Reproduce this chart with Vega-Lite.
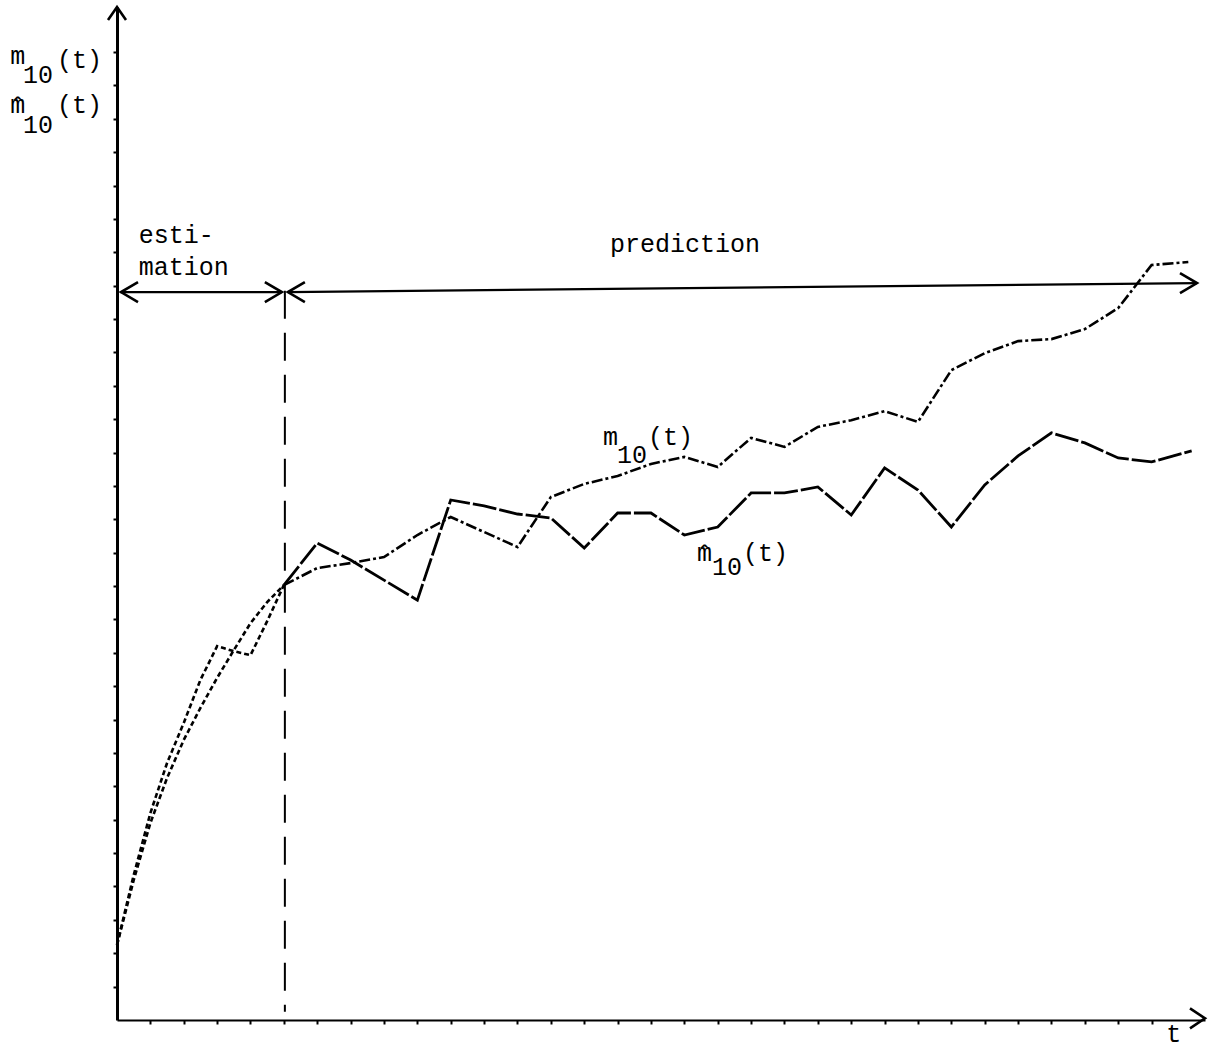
{
  "$schema": "https://vega.github.io/schema/vega-lite/v6.json",
  "width": 1088,
  "height": 1013,
  "autosize": {"type": "none"},
  "padding": {"left": 117, "top": 7, "right": 3, "bottom": 29},
  "background": "white",
  "config": {"view": {"stroke": null}, "font": "Liberation Mono"},
  "datasets": {
    "curves": [
      {"series": "m10", "phase": "estimation", "t": 0, "y": 2.25},
      {"series": "m10", "phase": "estimation", "t": 0.5, "y": 4.19},
      {"series": "m10", "phase": "estimation", "t": 1, "y": 5.9},
      {"series": "m10", "phase": "estimation", "t": 1.5, "y": 7.25},
      {"series": "m10", "phase": "estimation", "t": 2, "y": 8.39},
      {"series": "m10", "phase": "estimation", "t": 2.5, "y": 9.35},
      {"series": "m10", "phase": "estimation", "t": 3, "y": 10.25},
      {"series": "m10", "phase": "estimation", "t": 3.5, "y": 11.08},
      {"series": "m10", "phase": "estimation", "t": 4, "y": 11.89},
      {"series": "m10", "phase": "estimation", "t": 4.5, "y": 12.52},
      {"series": "m10", "phase": "estimation", "t": 5, "y": 13.03},
      {"series": "m10", "phase": "prediction", "t": 5, "y": 13.03},
      {"series": "m10", "phase": "prediction", "t": 6, "y": 13.54},
      {"series": "m10", "phase": "prediction", "t": 7, "y": 13.69},
      {"series": "m10", "phase": "prediction", "t": 8, "y": 13.87},
      {"series": "m10", "phase": "prediction", "t": 9, "y": 14.53},
      {"series": "m10", "phase": "prediction", "t": 10, "y": 15.07},
      {"series": "m10", "phase": "prediction", "t": 11, "y": 14.62},
      {"series": "m10", "phase": "prediction", "t": 12, "y": 14.17},
      {"series": "m10", "phase": "prediction", "t": 13, "y": 15.67},
      {"series": "m10", "phase": "prediction", "t": 14, "y": 16.06},
      {"series": "m10", "phase": "prediction", "t": 15, "y": 16.3},
      {"series": "m10", "phase": "prediction", "t": 16, "y": 16.66},
      {"series": "m10", "phase": "prediction", "t": 17, "y": 16.87},
      {"series": "m10", "phase": "prediction", "t": 18, "y": 16.57},
      {"series": "m10", "phase": "prediction", "t": 19, "y": 17.44},
      {"series": "m10", "phase": "prediction", "t": 20, "y": 17.17},
      {"series": "m10", "phase": "prediction", "t": 21, "y": 17.77},
      {"series": "m10", "phase": "prediction", "t": 22, "y": 17.97},
      {"series": "m10", "phase": "prediction", "t": 23, "y": 18.24},
      {"series": "m10", "phase": "prediction", "t": 24, "y": 17.92},
      {"series": "m10", "phase": "prediction", "t": 25, "y": 19.47},
      {"series": "m10", "phase": "prediction", "t": 26, "y": 19.98},
      {"series": "m10", "phase": "prediction", "t": 27, "y": 20.34},
      {"series": "m10", "phase": "prediction", "t": 28, "y": 20.4},
      {"series": "m10", "phase": "prediction", "t": 29, "y": 20.7},
      {"series": "m10", "phase": "prediction", "t": 30, "y": 21.33},
      {"series": "m10", "phase": "prediction", "t": 31, "y": 22.62},
      {"series": "m10", "phase": "prediction", "t": 32.1, "y": 22.71},
      {"series": "mhat10", "phase": "estimation", "t": 0, "y": 2.25},
      {"series": "mhat10", "phase": "estimation", "t": 0.5, "y": 4.34},
      {"series": "mhat10", "phase": "estimation", "t": 1, "y": 6.2},
      {"series": "mhat10", "phase": "estimation", "t": 1.5, "y": 7.7},
      {"series": "mhat10", "phase": "estimation", "t": 2, "y": 8.9},
      {"series": "mhat10", "phase": "estimation", "t": 2.5, "y": 10.19},
      {"series": "mhat10", "phase": "estimation", "t": 3, "y": 11.2},
      {"series": "mhat10", "phase": "estimation", "t": 3.5, "y": 11.05},
      {"series": "mhat10", "phase": "estimation", "t": 4, "y": 10.93},
      {"series": "mhat10", "phase": "estimation", "t": 4.5, "y": 11.95},
      {"series": "mhat10", "phase": "estimation", "t": 5, "y": 13.03},
      {"series": "mhat10", "phase": "prediction", "t": 5, "y": 13.03},
      {"series": "mhat10", "phase": "prediction", "t": 6, "y": 14.29},
      {"series": "mhat10", "phase": "prediction", "t": 7, "y": 13.78},
      {"series": "mhat10", "phase": "prediction", "t": 8, "y": 13.18},
      {"series": "mhat10", "phase": "prediction", "t": 9, "y": 12.58},
      {"series": "mhat10", "phase": "prediction", "t": 10, "y": 15.58},
      {"series": "mhat10", "phase": "prediction", "t": 11, "y": 15.4},
      {"series": "mhat10", "phase": "prediction", "t": 12, "y": 15.16},
      {"series": "mhat10", "phase": "prediction", "t": 13, "y": 15.04},
      {"series": "mhat10", "phase": "prediction", "t": 14, "y": 14.14},
      {"series": "mhat10", "phase": "prediction", "t": 15, "y": 15.19},
      {"series": "mhat10", "phase": "prediction", "t": 16, "y": 15.19},
      {"series": "mhat10", "phase": "prediction", "t": 17, "y": 14.53},
      {"series": "mhat10", "phase": "prediction", "t": 18, "y": 14.77},
      {"series": "mhat10", "phase": "prediction", "t": 19, "y": 15.79},
      {"series": "mhat10", "phase": "prediction", "t": 20, "y": 15.79},
      {"series": "mhat10", "phase": "prediction", "t": 21, "y": 15.97},
      {"series": "mhat10", "phase": "prediction", "t": 22, "y": 15.13},
      {"series": "mhat10", "phase": "prediction", "t": 23, "y": 16.54},
      {"series": "mhat10", "phase": "prediction", "t": 24, "y": 15.88},
      {"series": "mhat10", "phase": "prediction", "t": 25, "y": 14.77},
      {"series": "mhat10", "phase": "prediction", "t": 26, "y": 16.03},
      {"series": "mhat10", "phase": "prediction", "t": 27, "y": 16.9},
      {"series": "mhat10", "phase": "prediction", "t": 28, "y": 17.59},
      {"series": "mhat10", "phase": "prediction", "t": 29, "y": 17.29},
      {"series": "mhat10", "phase": "prediction", "t": 30, "y": 16.84},
      {"series": "mhat10", "phase": "prediction", "t": 31, "y": 16.72},
      {"series": "mhat10", "phase": "prediction", "t": 32.2, "y": 17.05}
    ],
    "divider": [{"t": 5.03, "y": 21.85, "y2": 0.25}],
    "arrows": [
      {"t": 0.1, "t2": 4.94, "y": 21.81, "y2": 21.81},
      {"t": 5.12, "t2": 32.36, "y": 21.81, "y2": 22.08}
    ],
    "heads": [
      {"kind": "left", "t": 0.12, "y": 21.81},
      {"kind": "right", "t": 4.94, "y": 21.81},
      {"kind": "left", "t": 5.12, "y": 21.81},
      {"kind": "right", "t": 32.36, "y": 22.08},
      {"kind": "up", "t": 0, "y": 30.35},
      {"kind": "axisright", "t": 32.6, "y": 0.05}
    ],
    "labels": [
      {"t": -3.2, "y": 28.64, "text": "m"},
      {"t": -2.82, "y": 28.07, "text": "10"},
      {"t": -1.8, "y": 28.52, "text": "(t)"},
      {"t": -3.2, "y": 27.11, "text": "ˆ"},
      {"t": -3.2, "y": 27.17, "text": "m"},
      {"t": -2.82, "y": 26.57, "text": "10"},
      {"t": -1.8, "y": 27.17, "text": "(t)"},
      {"t": 14.56, "y": 17.23, "text": "m"},
      {"t": 14.98, "y": 16.69, "text": "10"},
      {"t": 15.91, "y": 17.23, "text": "(t)"},
      {"t": 17.38, "y": 13.69, "text": "ˆ"},
      {"t": 17.38, "y": 13.75, "text": "m"},
      {"t": 17.83, "y": 13.33, "text": "10"},
      {"t": 18.76, "y": 13.75, "text": "(t)"},
      {"t": 0.65, "y": 23.28, "text": "esti-"},
      {"t": 0.65, "y": 22.32, "text": "mation"},
      {"t": 14.77, "y": 23.01, "text": "prediction"},
      {"t": 31.44, "y": -0.66, "text": "t"}
    ]
  },
  "encoding": {
    "x": {
      "field": "t",
      "type": "quantitative",
      "scale": {"domain": [0, 32.6], "nice": false, "zero": false},
      "axis": {
        "title": null,
        "labels": false,
        "grid": false,
        "values": [1,2,3,4,5,6,7,8,9,10,11,12,13,14,15,16,17,18,19,20,21,22,23,24,25,26,27,28,29,30,31],
        "tickSize": 4,
        "tickWidth": 2,
        "tickColor": "black",
        "domainColor": "black",
        "domainWidth": 2.2
      }
    },
    "y": {
      "field": "y",
      "type": "quantitative",
      "scale": {"domain": [0, 30.35], "nice": false, "zero": false},
      "axis": {
        "title": null,
        "labels": false,
        "grid": false,
        "values": [1,2,3,4,5,6,7,8,9,10,11,12,13,14,15,16,17,18,19,20,21,22,23,24,25,26,27,28,29],
        "tickSize": 4,
        "tickWidth": 2,
        "tickColor": "black",
        "domainColor": "black",
        "domainWidth": 3
      }
    }
  },
  "layer": [
    {
      "data": {"name": "curves"},
      "transform": [{"filter": "datum.phase === 'estimation'"}],
      "mark": {"type": "line", "color": "black", "strokeWidth": 2.6, "strokeDash": [5, 3]},
      "encoding": {"detail": {"field": "series"}}
    },
    {
      "data": {"name": "curves"},
      "transform": [{"filter": "datum.phase === 'prediction' && datum.series === 'm10'"}],
      "mark": {"type": "line", "color": "black", "strokeWidth": 2.6, "strokeDash": [11, 3, 3, 3]}
    },
    {
      "data": {"name": "curves"},
      "transform": [{"filter": "datum.phase === 'prediction' && datum.series === 'mhat10'"}],
      "mark": {"type": "line", "color": "black", "strokeWidth": 2.8, "strokeDash": [24, 3]}
    },
    {
      "data": {"name": "divider"},
      "mark": {"type": "rule", "color": "black", "strokeWidth": 2, "strokeDash": [28, 14]},
      "encoding": {"y2": {"field": "y2"}}
    },
    {
      "data": {"name": "arrows"},
      "mark": {"type": "rule", "color": "black", "strokeWidth": 2.2},
      "encoding": {"x2": {"field": "t2"}, "y2": {"field": "y2"}}
    },
    {
      "data": {"name": "heads"},
      "mark": {"type": "point", "filled": false, "color": "black", "strokeWidth": 2.6, "opacity": 1, "size": 1600, "strokeJoin": "miter"},
      "encoding": {
        "shape": {
          "field": "kind",
          "type": "nominal",
          "scale": {
            "domain": ["left", "right", "up", "axisright"],
            "range": ["M0.85,-0.5L0,0L0.85,0.5", "M-0.85,-0.5L0,0L-0.85,0.5", "M-0.45,0.65L0,0L0.45,0.65", "M-0.75,-0.5L0,0L-0.75,0.5"]
          },
          "legend": null
        }
      }
    },
    {
      "data": {"name": "labels"},
      "mark": {"type": "text", "font": "Liberation Mono", "fontSize": 25, "align": "left", "baseline": "alphabetic", "color": "black"},
      "encoding": {"text": {"field": "text"}}
    }
  ]
}
